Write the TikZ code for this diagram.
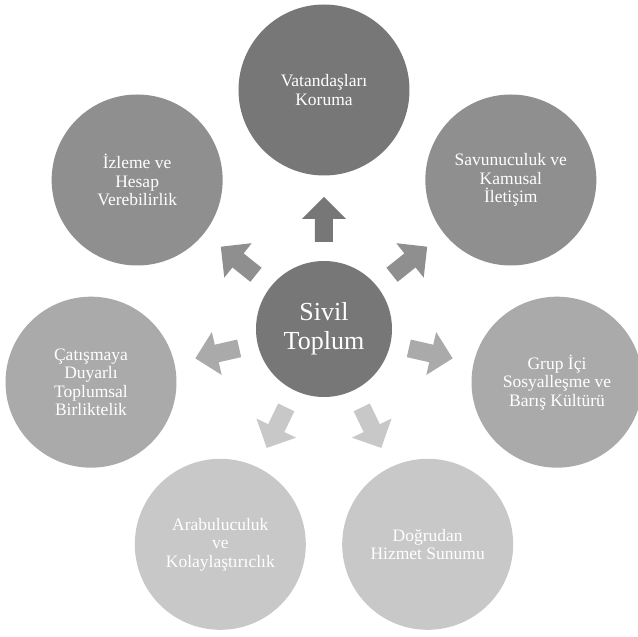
\documentclass[tikz,border=0pt]{standalone}
\usepackage{fontspec}
\setmainfont{Liberation Serif}

\definecolor{grayA}{RGB}{119,119,119}
\definecolor{grayB}{RGB}{143,143,143}
\definecolor{grayC}{RGB}{170,170,170}
\definecolor{grayD}{RGB}{200,200,200}

\begin{document}
\begin{tikzpicture}[x=1pt,y=1pt,
    hub/.style={circle,minimum size=136pt,inner sep=0pt,text=white,align=center,
      font=\fontsize{26}{29}\selectfont},
    leaf/.style={circle,minimum size=171pt,inner sep=0pt,text=white,align=center,
      font=\fontsize{17.5}{18.5}\selectfont}]
  \clip (-324,-308) rectangle (314,329);
  % centre
  \node[hub,fill=grayA] (st) at (0,0) {Sivil\\Toplum};
  % outer circles
  \node[leaf,fill=grayA] (vk) at (90:239pt) {Vatandaşları\\Koruma};
  \node[leaf,fill=grayB] (sk) at (38.571:239pt) {Savunuculuk ve\\Kamusal\\İletişim};
  \node[leaf,fill=grayC] (gi) at (-12.857:239pt) {Grup İçi\\Sosyalleşme ve\\Barış Kültürü};
  \node[leaf,fill=grayD] (dh) at (-64.286:239pt) {Doğrudan\\Hizmet Sunumu};
  \node[leaf,fill=grayD] (ak) at (-115.714:239pt) {Arabuluculuk\\ve\\Kolaylaştırıclık};
  \node[leaf,fill=grayC] (cd) at (-167.143:239pt) {Çatışmaya\\Duyarlı\\Toplumsal\\Birliktelik};
  \node[leaf,fill=grayB] (ih) at (141.429:239pt) {İzleme ve\\Hesap\\Verebilirlik};
  % block arrows
  \foreach \a/\c in {90/grayA,38.571/grayB,-12.857/grayC,-64.286/grayD,
      -115.714/grayD,-167.143/grayC,141.429/grayB}
    \fill[\c,shift={(st.center)},rotate=\a] (87,-9) -- (110,-9) -- (110,-22)
      -- (132,0) -- (110,22) -- (110,9) -- (87,9) -- cycle;
\end{tikzpicture}
\end{document}
